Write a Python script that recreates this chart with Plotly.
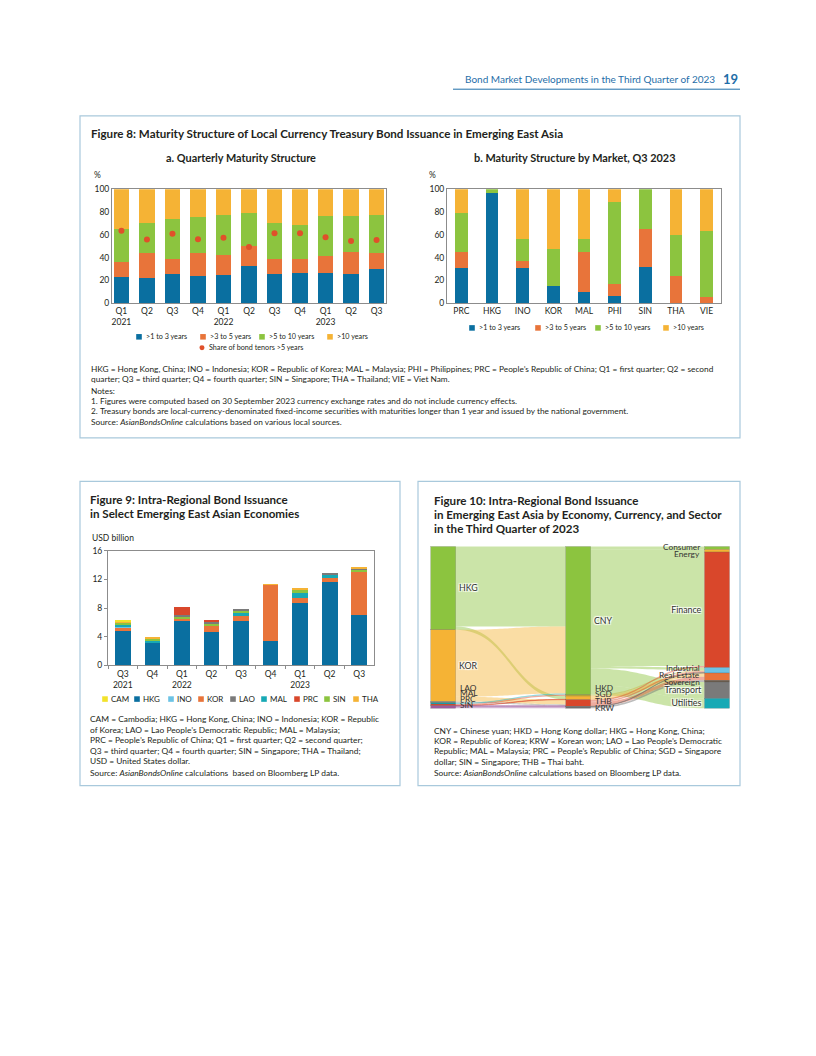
import plotly.graph_objects as go

W, H = 816, 1056
FONT = "Lato"
TXT = "#231f20"
AXC = "#8c8c8c"


def px(x):
    return x / W


def py(y):
    return 1 - y / H


def rgba(hex_color, a):
    h = hex_color.lstrip("#")
    r, g, b = int(h[0:2], 16), int(h[2:4], 16), int(h[4:6], 16)
    return f"rgba({r},{g},{b},{a})"


# ---------------- colours ----------------
C_BLUE = "#0a6fa0"
C_ORANGE = "#e8743a"
C_GREEN = "#8cc43f"
C_YELLOW = "#f5b335"
C_DOT = "#e0502a"

# ---------------- Figure 8a data ----------------
quarters_8a = ["Q1 2021", "Q2 2021", "Q3 2021", "Q4 2021", "Q1 2022", "Q2 2022",
               "Q3 2022", "Q4 2022", "Q1 2023", "Q2 2023", "Q3 2023"]
quarter_ticks_8a = ["Q1<br>2021", "Q2", "Q3", "Q4", "Q1<br>2022", "Q2", "Q3", "Q4",
                    "Q1<br>2023", "Q2", "Q3"]
tenor_1to3_8a = [22.8, 22.0, 25.4, 23.7, 24.9, 33.0, 25.4, 26.6, 26.9, 26.0, 29.8]
tenor_3to5_8a = [13.3, 22.0, 13.3, 19.9, 17.0, 17.0, 13.0, 11.8, 14.7, 18.5, 14.2]
tenor_5to10_8a = [28.6, 26.5, 35.3, 32.4, 35.6, 29.2, 32.1, 30.4, 34.7, 31.8, 33.5]
tenor_10p_8a = [35.3, 29.5, 26.0, 24.0, 22.5, 20.8, 29.5, 31.2, 23.7, 23.7, 22.5]
share_over5_8a = [63.6, 55.8, 61.0, 56.0, 57.5, 49.4, 61.3, 61.3, 57.8, 54.6, 55.5]

# ---------------- Figure 8b data ----------------
markets_8b = ["PRC", "HKG", "INO", "KOR", "MAL", "PHI", "SIN", "THA", "VIE"]
tenor_1to3_8b = [30.6, 96.8, 30.6, 15.0, 9.8, 6.6, 31.8, 0.0, 0.0]
tenor_3to5_8b = [13.9, 0.0, 6.7, 0.0, 34.7, 9.9, 32.9, 24.0, 5.5]
tenor_5to10_8b = [35.0, 3.2, 19.3, 32.4, 12.1, 72.2, 35.3, 36.1, 58.1]
tenor_10p_8b = [20.5, 0.0, 43.4, 52.6, 43.4, 11.3, 0.0, 39.9, 36.4]

tenor_names = [">1 to 3 years", ">3 to 5 years", ">5 to 10 years", ">10 years"]
tenor_colors = [C_BLUE, C_ORANGE, C_GREEN, C_YELLOW]

# ---------------- Figure 9 data (USD billion) ----------------
periods_9 = ["Q3 2021", "Q4 2021", "Q1 2022", "Q2 2022", "Q3 2022", "Q4 2022",
             "Q1 2023", "Q2 2023", "Q3 2023"]
period_ticks_9 = ["Q3<br>2021", "Q4", "Q1<br>2022", "Q2", "Q3", "Q4", "Q1<br>2023", "Q2", "Q3"]
iss_HKG = [4.75, 3.18, 6.17, 4.65, 6.17, 3.46, 8.70, 11.70, 7.05]
iss_KOR = [0.55, 0.00, 0.28, 0.78, 0.78, 7.80, 0.69, 0.55, 6.00]
iss_INO = [0.20, 0.00, 0.00, 0.00, 0.00, 0.00, 0.00, 0.00, 0.00]
iss_MAL = [0.25, 0.23, 0.00, 0.00, 0.32, 0.00, 0.69, 0.41, 0.00]
iss_SIN = [0.23, 0.37, 0.37, 0.46, 0.28, 0.00, 0.46, 0.00, 0.32]
iss_LAO = [0.00, 0.00, 0.23, 0.18, 0.28, 0.00, 0.00, 0.14, 0.23]
iss_PRC = [0.00, 0.00, 1.10, 0.32, 0.00, 0.00, 0.00, 0.00, 0.00]
iss_THA = [0.23, 0.14, 0.00, 0.00, 0.00, 0.10, 0.28, 0.00, 0.10]
iss_CAM = [0.06, 0.00, 0.00, 0.00, 0.00, 0.00, 0.00, 0.00, 0.00]

econ_colors_9 = {"CAM": "#f2e22a", "HKG": C_BLUE, "INO": "#6cc3e5", "KOR": C_ORANGE,
                 "LAO": "#7a7a7a", "MAL": "#17a9b5", "PRC": "#d9472b", "SIN": C_GREEN,
                 "THA": C_YELLOW}
legend_order_9 = ["CAM", "HKG", "INO", "KOR", "LAO", "MAL", "PRC", "SIN", "THA"]
stack_9 = [("HKG", iss_HKG), ("KOR", iss_KOR), ("INO", iss_INO), ("MAL", iss_MAL),
           ("SIN", iss_SIN), ("LAO", iss_LAO), ("PRC", iss_PRC), ("THA", iss_THA),
           ("CAM", iss_CAM)]

# ---------------- Figure 10 data (USD billion) ----------------
economies_10 = ["HKG", "KOR", "LAO", "MAL", "PRC", "SIN"]
currencies_10 = ["CNY", "HKD", "SGD", "THB", "KRW"]
sectors_10 = ["Consumer", "Energy", "Finance", "Industrial", "Real Estate",
              "Sovereign", "Transport", "Utilities"]
flow_econ = ["HKG", "HKG", "KOR", "KOR", "LAO", "MAL", "PRC", "PRC", "SIN", "SIN"]
flow_ccy_in = ["CNY", "SGD", "CNY", "THB", "THB", "CNY", "HKD", "SGD", "THB", "KRW"]
flow_val_in = [6.80, 0.28, 5.70, 0.40, 0.11, 0.11, 0.11, 0.03, 0.05, 0.17]
flow_ccy_out = ["CNY", "CNY", "CNY", "CNY", "CNY", "CNY", "HKD", "SGD", "THB", "THB",
                "THB", "KRW", "KRW"]
flow_sector = ["Consumer", "Energy", "Finance", "Industrial", "Transport", "Utilities",
               "Industrial", "Real Estate", "Finance", "Industrial", "Real Estate",
               "Sovereign", "Industrial"]
flow_val_out = [0.25, 0.22, 9.70, 0.20, 1.40, 0.84, 0.11, 0.31, 0.13, 0.12, 0.31, 0.14, 0.03]

node_colors_10 = {
    "HKG": C_GREEN, "KOR": C_YELLOW, "LAO": "#8a8a7a", "MAL": "#17a9b5", "PRC": "#d9472b",
    "SIN": "#9c5a9e",
    "CNY": C_GREEN, "HKD": "#c8b43a", "SGD": C_YELLOW, "THB": "#d9472b", "KRW": "#6d6d6d",
    "Consumer": C_GREEN, "Energy": C_YELLOW, "Finance": "#d9472b", "Industrial": "#6cc3e5",
    "Real Estate": C_ORANGE, "Sovereign": "#6b5a48", "Transport": "#7a7a7a",
    "Utilities": "#17a9b5",
}
small_label_nodes = {"LAO", "MAL", "PRC", "SIN", "HKD", "SGD", "THB", "KRW", "Consumer", "Energy",
                     "Industrial", "Real Estate", "Sovereign"}

fig = go.Figure()

# ---------- Figure 8a bars ----------
for name, vals, col in zip(tenor_names, [tenor_1to3_8a, tenor_3to5_8a, tenor_5to10_8a, tenor_10p_8a], tenor_colors):
    fig.add_trace(go.Bar(x=quarters_8a, y=vals, name=name, marker=dict(color=col, line=dict(width=0)),
                         width=0.61, xaxis="x", yaxis="y", showlegend=False))
fig.add_trace(go.Scatter(x=quarters_8a, y=share_over5_8a, mode="markers", name="Share of bond tenors >5 years",
                         marker=dict(color=C_DOT, size=6), xaxis="x", yaxis="y", showlegend=False))

# ---------- Figure 8b bars ----------
for name, vals, col in zip(tenor_names, [tenor_1to3_8b, tenor_3to5_8b, tenor_5to10_8b, tenor_10p_8b], tenor_colors):
    fig.add_trace(go.Bar(x=markets_8b, y=vals, name=name, marker=dict(color=col, line=dict(width=0)),
                         width=0.42, xaxis="x2", yaxis="y2", showlegend=False))

# ---------- Figure 9 bars ----------
for name, vals in stack_9:
    fig.add_trace(go.Bar(x=periods_9, y=vals, name=name,
                         marker=dict(color=econ_colors_9[name], line=dict(width=0)),
                         width=0.53, xaxis="x3", yaxis="y3", showlegend=False))

# ---------- Figure 10 sankey ----------
node_names = economies_10 + currencies_10 + sectors_10
idx = {n: i for i, n in enumerate(node_names)}
inflow = {n: 0.0 for n in node_names}
outflow = {n: 0.0 for n in node_names}
src, tgt, val, lcol = [], [], [], []
for s, t, v in list(zip(flow_econ, flow_ccy_in, flow_val_in)) + list(zip(flow_ccy_out, flow_sector, flow_val_out)):
    src.append(idx[s]); tgt.append(idx[t]); val.append(v)
    lcol.append(rgba(node_colors_10[s], 0.45))
    outflow[s] += v; inflow[t] += v
node_val = {n: max(inflow[n], outflow[n]) for n in node_names}
columns = [economies_10, currencies_10, sectors_10]
col_x = [0.0418, 0.4928, 0.9566]
total = max(sum(node_val[n] for n in c) for c in columns)
nx, ny = [0.0] * len(node_names), [0.0] * len(node_names)
for c, xc in zip(columns, col_x):
    cum = 0.0
    for n in c:
        nx[idx[n]] = xc
        ny[idx[n]] = (cum + node_val[n] / 2) / total
        cum += node_val[n]
labels = ["" if n in small_label_nodes else n for n in node_names]

fig.add_trace(go.Sankey(
    domain=dict(x=[px(430.7), px(730)], y=[py(710), py(546.7)]),
    arrangement="fixed",
    node=dict(label=labels, x=nx, y=ny, pad=0, thickness=25,
              color=[node_colors_10[n] for n in node_names],
              line=dict(color="rgba(60,60,60,0.35)", width=0.5)),
    link=dict(source=src, target=tgt, value=val, color=lcol),
    textfont=dict(family=FONT, size=8.8, color="#333333"),
))

# ---------- axes ----------
tick_font = dict(family=FONT, size=8.5, color=TXT)
common_x = dict(type="category", showline=True, mirror=True, linecolor=AXC, linewidth=1,
                showgrid=False, zeroline=False, tickfont=tick_font, ticks="")
common_y = dict(showline=True, mirror=True, linecolor=AXC, linewidth=1, showgrid=False,
                zeroline=False, tickfont=tick_font)

layout_axes = dict(
    xaxis=dict(common_x, domain=[px(112), px(386)], range=[-0.37, 10.37], anchor="y",
               tickmode="array", tickvals=quarters_8a, ticktext=quarter_ticks_8a),
    yaxis=dict(common_y, domain=[py(301), py(186)], range=[0, 100], anchor="x",
               tickvals=[0, 20, 40, 60, 80, 100], ticks=""),
    xaxis2=dict(common_x, domain=[px(447), px(721)], range=[-0.47, 8.47], anchor="y2",
                tickmode="array", tickvals=markets_8b, ticktext=markets_8b),
    yaxis2=dict(common_y, domain=[py(301), py(186)], range=[0, 100], anchor="x2",
                tickvals=[0, 20, 40, 60, 80, 100], ticks=""),
    xaxis3=dict(common_x, domain=[px(108), px(374)], range=[-0.5, 8.5], anchor="y3",
                tickmode="array", tickvals=periods_9, ticktext=period_ticks_9),
    yaxis3=dict(common_y, domain=[py(666.7), py(551)], range=[0, 16], anchor="x3",
                tickvals=[0, 4, 8, 12, 16], ticks="outside", ticklen=3, tickcolor=AXC),
)
layout_axes["xaxis3"].update(ticks="outside", ticklen=3, tickcolor=AXC, tickson="boundaries")

# ---------- shapes & annotations ----------
shapes = []
ann = []


def txt(x, y, s, size=8.3, bold=False, color=TXT, anchor="left"):
    if bold:
        s = f"<b>{s}</b>"
    ann.append(dict(x=px(x), y=py(y), xref="paper", yref="paper", text=s, showarrow=False,
                    xanchor=anchor, yanchor="middle", font=dict(family=FONT, size=size, color=color)))


def rect(x0, y0, x1, y1, line=None, fill=None, lw=1.0):
    shapes.append(dict(type="rect", xref="paper", yref="paper", x0=px(x0), x1=px(x1),
                       y0=py(y1), y1=py(y0), line=dict(color=line or "rgba(0,0,0,0)", width=lw if line else 0),
                       fillcolor=fill or "rgba(0,0,0,0)"))


# header
HDR = "#1f6ea8"
txt(717, 75, "Bond Market Developments in the Third Quarter of 2023", size=10, color=HDR, anchor="right")
txt(740, 74.5, "19", size=13, bold=True, color=HDR, anchor="right")
shapes.append(dict(type="line", xref="paper", yref="paper", x0=px(453), x1=px(740), y0=py(85), y1=py(85),
                   line=dict(color=HDR, width=1)))

# boxes
BOX = "#a9c9dc"
rect(80, 112, 740, 437, line=BOX, lw=1.2)
rect(80, 481, 400, 788, line=BOX, lw=1.2)
rect(418, 481, 740, 788, line=BOX, lw=1.2)

# Figure 8 texts
TS = 11.6
txt(89, 130, "Figure 8: Maturity Structure of Local Currency Treasury Bond Issuance in Emerging East Asia", size=TS, bold=True)
txt(241, 154, "a. Quarterly Maturity Structure", size=10.9, bold=True, anchor="center")
txt(574, 154, "b. Maturity Structure by Market, Q3 2023", size=10.9, bold=True, anchor="center")
txt(97, 172, "%", size=8.5, anchor="center")
txt(432, 172, "%", size=8.5, anchor="center")

# legends 8a / 8b
SQ = 2.8
for xs, nm, col in zip([139, 203, 262, 330], tenor_names, tenor_colors):
    rect(xs - SQ, 335 - SQ, xs + SQ, 335 + SQ, fill=col)
    txt(xs + 4.5, 335, nm, size=7.2)
shapes.append(dict(type="circle", xref="paper", yref="paper", x0=px(202 - 2.5), x1=px(202 + 2.5),
                   y0=py(346 + 2.5), y1=py(346 - 2.5), fillcolor=C_DOT, line=dict(width=0)))
txt(206.5, 346, "Share of bond tenors >5 years", size=7.2)
for xs, nm, col in zip([472, 538, 598, 666], tenor_names, tenor_colors):
    rect(xs - SQ, 326 - SQ, xs + SQ, 326 + SQ, fill=col)
    txt(xs + 4.5, 326, nm, size=7.2)

NS8 = 8.3
notes8 = [
    (367, "HKG = Hong Kong, China; INO = Indonesia; KOR = Republic of Korea; MAL = Malaysia; PHI = Philippines; PRC = People’s Republic of China; Q1 = first quarter; Q2 = second"),
    (377.5, "quarter; Q3 = third quarter; Q4 = fourth quarter; SIN = Singapore; THA = Thailand; VIE = Viet Nam."),
    (390, "Notes:"),
]
for y, s in notes8:
    txt(89, y, s, size=NS8)
txt(89, 400, "1.", size=NS8)
txt(98, 400, "Figures were computed based on 30 September 2023 currency exchange rates and do not include currency effects.", size=NS8)
txt(89, 410, "2.", size=NS8)
txt(98, 410, "Treasury bonds are local-currency-denominated fixed-income securities with maturities longer than 1 year and issued by the national government.", size=NS8)
txt(89, 421, "Source: <i>AsianBondsOnline</i> calculations based on various local sources.", size=NS8)

# Figure 9 texts
txt(88, 499, "Figure 9: Intra-Regional Bond Issuance", size=TS, bold=True)
txt(88, 513.5, "in Select Emerging East Asian Economies", size=TS, bold=True)
txt(90, 538, "USD billion", size=8.5)
for xs, nm in zip([105, 137, 171, 201, 233, 264, 297, 327, 356], legend_order_9):
    rect(xs - SQ, 700.7 - SQ, xs + SQ, 700.7 + SQ, fill=econ_colors_9[nm])
    txt(xs + 4, 700.7, nm, size=8)
NS9 = 8.4
notes9 = [
    (721, "CAM = Cambodia; HKG = Hong Kong, China; INO = Indonesia; KOR = Republic"),
    (731.7, "of Korea; LAO = Lao People’s Democratic Republic; MAL = Malaysia;"),
    (742.3, "PRC = People’s Republic of China; Q1 = first quarter; Q2 = second quarter;"),
    (753, "Q3 = third quarter; Q4 = fourth quarter; SIN = Singapore; THA = Thailand;"),
    (763.7, "USD = United States dollar."),
    (775.7, "Source: <i>AsianBondsOnline</i> calculations  based on Bloomberg LP data."),
]
for y, s in notes9:
    txt(88, y, s, size=NS9)

# Figure 10 texts
txt(432, 500.5, "Figure 10: Intra-Regional Bond Issuance", size=TS, bold=True)
txt(432, 514.5, "in Emerging East Asia by Economy, Currency, and Sector", size=TS, bold=True)
txt(432, 528.5, "in the Third Quarter of 2023", size=TS, bold=True)
small_pos = {
    "LAO": (457.7, 689.3, "left"), "MAL": (457.7, 694.7, "left"), "PRC": (457.7, 700.3, "left"),
    "SIN": (457.7, 706.7, "left"),
    "HKD": (592.7, 689.3, "left"), "SGD": (592.7, 696, "left"), "THB": (592.7, 702.7, "left"),
    "KRW": (592.7, 709.3, "left"),
    "Consumer": (702, 546.7, "right"), "Energy": (702, 554.3, "right"),
    "Industrial": (702, 669, "right"), "Real Estate": (702, 676, "right"),
    "Sovereign": (702, 683.5, "right"),
}
for n, (x, y, a) in small_pos.items():
    txt(x, y, n, size=8.3, color="#333333", anchor=a)
NS10 = 8.4
notes10 = [
    (732.7, "CNY = Chinese yuan; HKD = Hong Kong dollar; HKG = Hong Kong, China;"),
    (743, "KOR = Republic of Korea; KRW = Korean won; LAO = Lao People’s Democratic"),
    (753.5, "Republic; MAL = Malaysia; PRC = People’s Republic of China; SGD = Singapore"),
    (764, "dollar; SIN = Singapore; THB = Thai baht."),
    (775.7, "Source: <i>AsianBondsOnline</i> calculations based on Bloomberg LP data."),
]
for y, s in notes10:
    txt(432, y, s, size=NS10)

fig.update_layout(
    width=W, height=H, margin=dict(l=0, r=0, t=0, b=0),
    paper_bgcolor="white", plot_bgcolor="white",
    barmode="stack", showlegend=False,
    font=dict(family=FONT, color=TXT),
    shapes=shapes, annotations=ann,
    **layout_axes,
)

fig.write_html(
    "out.html",
    config={"displayModeBar": False},
    post_script="document.body.style.margin='0px';document.body.style.padding='0px';"
                "document.documentElement.style.overflow='hidden';document.body.style.overflow='hidden';",
)
